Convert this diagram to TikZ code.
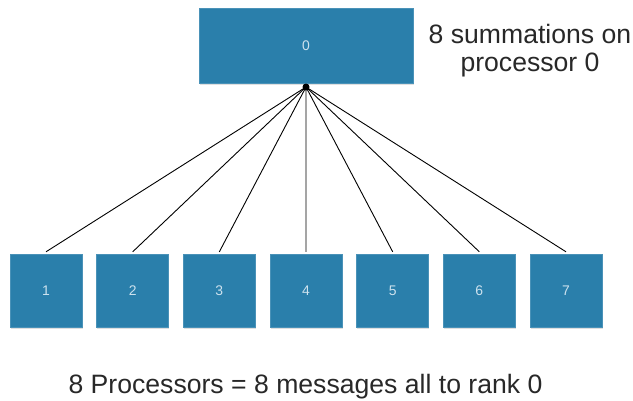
\documentclass[tikz,border=0pt]{standalone}
\usepackage{fontspec}
\setmainfont{Liberation Sans}
\usetikzlibrary{shadows}
\definecolor{procblue}{RGB}{42,127,171}
\definecolor{labelfg}{RGB}{205,226,238}
\definecolor{notefg}{RGB}{40,40,40}
\begin{document}
\begin{tikzpicture}[
  x=1bp, y=-1bp,
  every node/.style = {font=\fontsize{14}{16}\selectfont},
  proc/.style = {draw=procblue!85!white, fill=procblue, text=labelfg,
                 rectangle, inner sep=0pt,
                 drop shadow={shadow xshift=0.6bp, shadow yshift=-1.6bp, opacity=0.25}},
  root/.style = {proc, minimum width=214bp, minimum height=75bp},
  leaf/.style = {proc, minimum width=72bp, minimum height=73bp},
  note/.style = {font=\fontsize{26.7}{28}\selectfont, text=notefg, align=center, inner sep=0pt},
  msg/.style  = {black, line width=0.9bp},
]
\useasboundingbox (0,0) rectangle (633,400);

% --- Rank 0 collects everything ---------------------------------------
\node[root] (r0) at (306,45.5) {0};
\node[note] (sum) at (530,51) {8 summations on\\ processor 0};
\coordinate (hub) at (306,87);

% --- The other ranks --------------------------------------------------
\foreach \i in {1,...,7} {
  \node[leaf] (r\i) at ({46+86.67*(\i-1)},290.5) {\i};
  \draw[msg] (hub) -- ([yshift=2bp]r\i.north);
}
\fill (hub) circle (3.5bp);

\node[note, anchor=base] (cap) at (305.5,393) {8 Processors = 8 messages all to rank 0};

\end{tikzpicture}
\end{document}
